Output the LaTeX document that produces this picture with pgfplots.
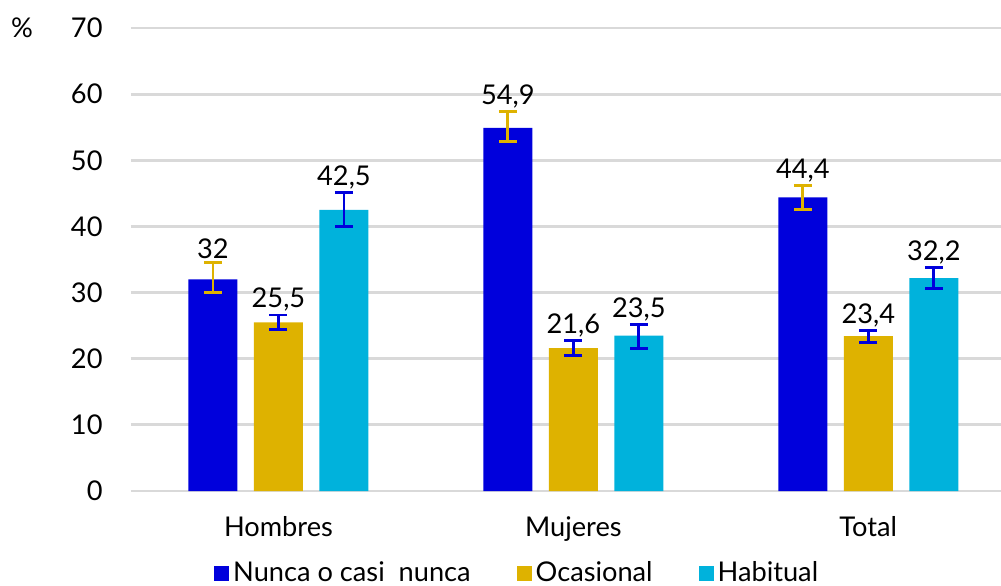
\documentclass[border=0pt]{standalone}
\usepackage{pgfplots}
\pgfplotsset{compat=1.18}
\usepackage{pgfplotstable}
\usepackage{fontspec}
\setmainfont{Lato}

\definecolor{nunca}{HTML}{0000DC}
\definecolor{ocas}{HTML}{DEB200}
\definecolor{habit}{HTML}{00B2DC}
\definecolor{gridgray}{HTML}{D9D9D9}

% x: 0 Hombres, 1 Mujeres, 2 Total
\pgfplotstableread{
x y em ep
0 32.0 2.0 2.6
1 54.9 2.1 2.5
2 44.4 1.8 1.8
}\nunca
\pgfplotstableread{
x y em ep
0 25.5 1.1 1.1
1 21.6 1.1 1.2
2 23.4 0.9 0.9
}\ocasional
\pgfplotstableread{
x y em ep
0 42.5 2.5 2.6
1 23.5 1.9 1.7
2 32.2 1.6 1.6
}\habitual

\begin{document}
\fontsize{13.6}{16}\selectfont
\begin{tikzpicture}
\useasboundingbox (-65.5pt,-47pt) rectangle (435pt,245.5pt);
\begin{axis}[
    scale only axis,
    width=435pt, height=231.5pt,
    ybar=8.25pt, bar width=24.5pt,
    xmin=-0.5, xmax=2.45,
    ymin=0, ymax=70,
    ytick={0,10,...,70},
    xtick={0,1,2},
    xticklabels={Hombres,Mujeres,Total},
    axis line style={draw=none},
    major tick length=0pt,
    ymajorgrids=true,
    grid style={gridgray, line width=1.4pt},
    yticklabel style={xshift=-9.5pt},
    xticklabel style={yshift=-8pt},
    /pgf/number format/assume math mode=true,
    /pgf/number format/use comma,
    nodes near coords,
    visualization depends on={\thisrow{ep} \as \ep},
    nodes near coords style={shift={(axis direction cs:0,\ep)}, anchor=south, inner sep=1.5pt, text=black,
        /pgf/number format/assume math mode=true, /pgf/number format/use comma},
    error bars/y dir=both,
    error bars/y explicit,
    legend style={at={(0.445,0)}, anchor=north, yshift=-33pt, draw=none, fill=none,
        legend columns=-1, inner sep=0pt,
        /tikz/every even column/.append style={column sep=21pt}},
    legend image code/.code={\fill[#1] (0pt,-3.75pt) rectangle (7.5pt,3.75pt);},
]
\addplot[fill=nunca, draw=none,
    error bars/error bar style={ocas, line width=1.4pt},
    error bars/error mark options={ocas, line width=1.4pt, mark size=4.5pt, rotate=90}]
    table[x=x, y=y, y error plus=ep, y error minus=em] {\nunca};
\addplot[fill=ocas, draw=none,
    error bars/error bar style={nunca, line width=1.4pt},
    error bars/error mark options={nunca, line width=1.4pt, mark size=4.5pt, rotate=90}]
    table[x=x, y=y, y error plus=ep, y error minus=em] {\ocasional};
\addplot[fill=habit, draw=none,
    error bars/error bar style={nunca, line width=1.4pt},
    error bars/error mark options={nunca, line width=1.4pt, mark size=4.5pt, rotate=90}]
    table[x=x, y=y, y error plus=ep, y error minus=em] {\habitual};
\legend{Nunca o casi~ nunca, Ocasional, Habitual}
\end{axis}
\node at (-54.5pt,231.5pt) {\%};
\end{tikzpicture}
\end{document}
